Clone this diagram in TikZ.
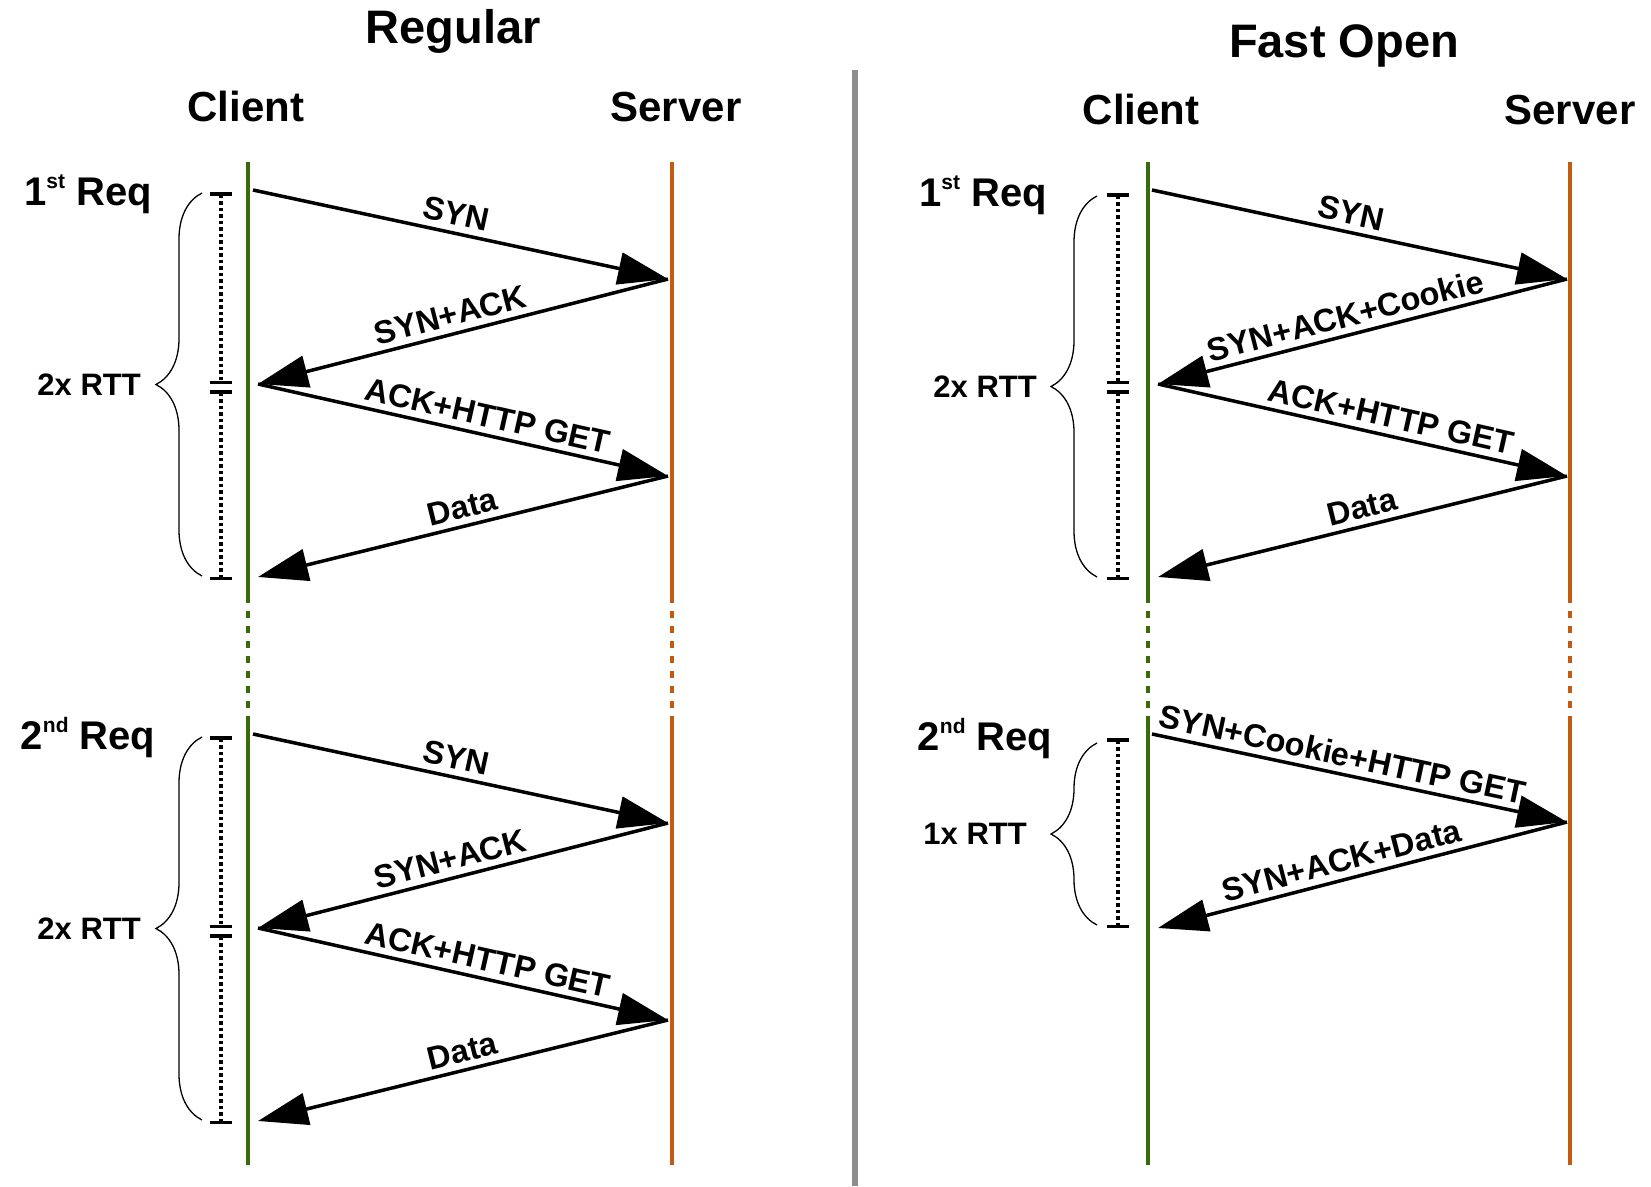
\documentclass[tikz,border=0pt]{standalone}
\usepackage{fontspec}
\setmainfont{Liberation Sans}
\usetikzlibrary{arrows.meta,decorations.pathreplacing,positioning}

\definecolor{clientgreen}{HTML}{3A6B0A}
\definecolor{serverorange}{HTML}{C55A11}

\newcommand{\ordsup}[1]{\raisebox{17pt}{\fontsize{21}{21}\selectfont #1}}

\tikzset{
  title/.style={font=\bfseries\fontsize{47}{50}\selectfont, anchor=base},
  party/.style={font=\bfseries\fontsize{42}{44}\selectfont, anchor=base},
  req/.style={font=\bfseries\fontsize{40}{42}\selectfont, anchor=base},
  rtt/.style={font=\bfseries\fontsize{31}{33}\selectfont, inner sep=0pt},
  client/.style={draw=clientgreen, line width=3.5pt},
  server/.style={draw=serverorange, line width=3.5pt},
  gap/.style={dash pattern=on 7pt off 8pt, dash phase=-8pt},
  msg/.style={line width=3.5pt, -{Triangle[length=50pt,width=32pt]}},
  msglabel/.style={font=\bfseries\fontsize{32.5}{34}\selectfont, sloped, above, inner sep=6pt},
  rttbar/.style={line width=3.5pt, dash pattern=on 3.5pt off 3pt, {Bar[width=22pt]}-{Bar[width=22pt]}},
  rttbrace/.style={decorate, decoration={brace, amplitude=46pt}, line width=1.3pt},
  sep/.style={draw=gray!90, line width=5.5pt}
}

\begin{document}
\begin{tikzpicture}[x=1pt, y=-1pt]
  \useasboundingbox (0,0) rectangle (1651,1186);

  % headings
  \node[title] (regular) at (453,43) {Regular};
  \node[title] (fastopen) at (1344,57) {Fast Open};
  \node[party] (rclient) at (246,121) {Client};
  \node[party] (rserver) at (676,121) {Server};
  \node[party] (fclient) at (1141,124) {Client};
  \node[party] (fserver) at (1570,124) {Server};

  \draw[sep] (855,70) -- (855,1186);

  % life lines, broken between the two requests
  \foreach \x/\who in {248/client, 672/server, 1148/client, 1570/server} {
    \draw[\who] (\x,162) -- (\x,603);
    \draw[\who, gap] (\x,603) -- (\x,717);
    \draw[\who] (\x,717) -- (\x,1165);
  }

  % regular handshake, once per request
  \foreach \k/\nth/\dy in {1/st/0, 2/nd/544} {
    \begin{scope}[yshift=-\dy pt]
      \node[req] (rreq\k) at (88,205) {\k\ordsup{\nth} Req};
      \coordinate (rc\k a) at (253,190);
      \coordinate (rs\k a) at (668,279);
      \coordinate (rc\k b) at (258,384);
      \coordinate (rs\k b) at (668,476);
      \coordinate (rc\k c) at (258,577);
      \draw[msg] (rc\k a) -- node[msglabel, pos=.48] {SYN} (rs\k a);
      \draw[msg] (rs\k a) -- node[msglabel, pos=.52] {SYN+ACK} (rc\k b);
      \draw[msg] (rc\k b) -- node[msglabel, pos=.55] {ACK+HTTP GET} (rs\k b);
      \draw[msg] (rs\k b) -- node[msglabel, pos=.49] {Data} (rc\k c);
      \draw[rttbar] (221,192) -- (221,384);
      \draw[rttbar] (221,390) -- (221,580);
      \draw[rttbrace] (202,576) -- coordinate[midway, xshift=-46pt] (rtip\k) (202,193);
      \node[rtt, left=15pt of rtip\k] (rrtt\k) {2x RTT};
    \end{scope}
  }

  % fast open, first request
  \node[req] (freq1) at (983,206) {1\ordsup{st} Req};
  \coordinate (fc1a) at (1152,190);
  \coordinate (fs1a) at (1567,279);
  \coordinate (fc1b) at (1158,384);
  \coordinate (fs1b) at (1567,476);
  \coordinate (fc1c) at (1158,577);
  \draw[msg] (fc1a) -- node[msglabel, pos=.47] {SYN} (fs1a);
  \draw[msg] (fs1a) -- node[msglabel, pos=.53] {SYN+ACK+Cookie} (fc1b);
  \draw[msg] (fc1b) -- node[msglabel, pos=.56] {ACK+HTTP GET} (fs1b);
  \draw[msg] (fs1b) -- node[msglabel, pos=.49] {Data} (fc1c);
  \draw[rttbar] (1118,193) -- (1118,384);
  \draw[rttbar] (1118,390) -- (1118,580);
  \draw[rttbrace] (1097,577) -- coordinate[midway, xshift=-46pt] (ftip1) (1097,196);
  \node[rtt, left=14pt of ftip1] (frtt1) {2x RTT};

  % fast open, second request with the cookie
  \node[req] (freq2) at (985,750) {2\ordsup{nd} Req};
  \coordinate (fc2a) at (1152,734);
  \coordinate (fs2a) at (1567,822);
  \coordinate (fc2b) at (1158,928);
  \draw[msg] (fc2a) -- node[msglabel, pos=.45] {SYN+Cookie+HTTP GET} (fs2a);
  \draw[msg] (fs2a) -- node[msglabel, pos=.54] {SYN+ACK+Data} (fc2b);
  \draw[rttbar] (1118,738) -- (1118,928);
  \draw[rttbrace] (1097,925) -- coordinate[midway, xshift=-46pt] (ftip2) (1097,743);
  \node[rtt, left=24pt of ftip2] (frtt2) {1x RTT};
\end{tikzpicture}
\end{document}
